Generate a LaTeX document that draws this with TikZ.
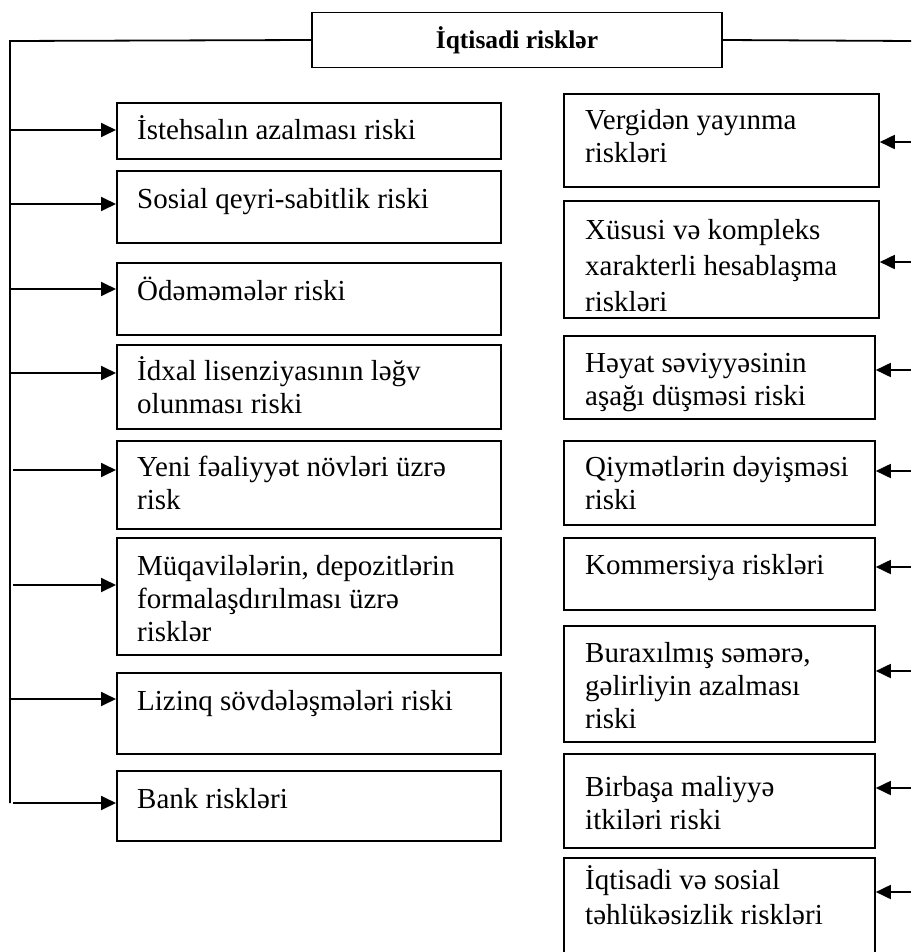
\documentclass[tikz,border=0pt]{standalone}
\usepackage{fontspec}
\setmainfont{Liberation Serif}
\usetikzlibrary{arrows.meta}

\begin{document}
\begin{tikzpicture}[x=1pt,y=-1pt,
        head/.style = {draw, rectangle, line width=1.8pt, minimum width=410pt, minimum height=55pt, font=\fontsize{25.5}{30}\selectfont\bfseries},
]
\tikzstyle{rbox}=[rectangle, draw=black, line width=1.8pt, anchor=north west, inner sep=0pt]
\tikzstyle{txt}=[anchor=base west, align=left, inner sep=0pt, font=\fontsize{29}{33}\selectfont]
\tikzstyle{connect}=[-{Triangle[length=15pt,width=14pt]}, line width=1.8pt]
\tikzstyle{trunk}=[line width=1.8pt]

\useasboundingbox (0,0) rectangle (911,952);

	\node[head] (risk) at (517,40) {İqtisadi risklər};

	% left column (base = last line of the text)
	\node[rbox, minimum width=384pt, minimum height=56pt] (l1) at (116,102) {};
	\node[txt] (tl1) at ([shift={(21,38)}]l1.north west) {İstehsalın azalması riski};

	\node[rbox, minimum width=384pt, minimum height=72pt] (l2) at (116,170) {};
	\node[txt] (tl2) at ([shift={(21,38)}]l2.north west) {Sosial qeyri-sabitlik riski};

	\node[rbox, minimum width=384pt, minimum height=72pt] (l3) at (116,262) {};
	\node[txt] (tl3) at ([shift={(21,38)}]l3.north west) {Ödəməmələr riski};

	\node[rbox, minimum width=384pt, minimum height=84pt] (l4) at (116,344) {};
	\node[txt] (tl4) at ([shift={(21,69)}]l4.north west) {İdxal lisenziyasının ləğv\\olunması riski};

	\node[rbox, minimum width=384pt, minimum height=88pt] (l5) at (116,440) {};
	\node[txt] (tl5) at ([shift={(21,69)}]l5.north west) {Yeni fəaliyyət növləri üzrə\\risk};

	\node[rbox, minimum width=384pt, minimum height=117pt] (l6) at (116,537) {};
	\node[txt] (tl6) at ([shift={(21,104)}]l6.north west) {Müqavilələrin, depozitlərin\\formalaşdırılması üzrə\\risklər};

	\node[rbox, minimum width=384pt, minimum height=81pt] (l7) at (116,672) {};
	\node[txt] (tl7) at ([shift={(21,38)}]l7.north west) {Lizinq sövdələşmələri riski};

	\node[rbox, minimum width=384pt, minimum height=70pt] (l8) at (116,770) {};
	\node[txt] (tl8) at ([shift={(21,38)}]l8.north west) {Bank riskləri};

	% right column
	\node[rbox, minimum width=315pt, minimum height=93pt] (r1) at (563,93) {};
	\node[txt] (tr1) at ([shift={(22,70)}]r1.north west) {Vergidən yayınma\\riskləri};

	\node[rbox, minimum width=315pt, minimum height=117pt] (r2) at (563,200) {};
	\node[txt] (tr2) at ([shift={(22,111)}]r2.north west) {Xüsusi və kompleks\\[3pt]xarakterli hesablaşma\\[3pt]riskləri};

	\node[rbox, minimum width=311pt, minimum height=83pt] (r3) at (563,335) {};
	\node[txt] (tr3) at ([shift={(22,70)}]r3.north west) {Həyat səviyyəsinin\\aşağı düşməsi riski};

	\node[rbox, minimum width=311pt, minimum height=84pt] (r4) at (563,440) {};
	\node[txt] (tr4) at ([shift={(22,69)}]r4.north west) {Qiymətlərin dəyişməsi\\riski};

	\node[rbox, minimum width=311pt, minimum height=72pt] (r5) at (563,537) {};
	\node[txt] (tr5) at ([shift={(22,37)}]r5.north west) {Kommersiya riskləri};

	\node[rbox, minimum width=311pt, minimum height=116pt] (r6) at (563,625) {};
	\node[txt] (tr6) at ([shift={(22,103)}]r6.north west) {Buraxılmış səmərə,\\gəlirliyin azalması\\riski};

	\node[rbox, minimum width=311pt, minimum height=94pt] (r7) at (563,753) {};
	\node[txt] (tr7) at ([shift={(22,76)}]r7.north west) {Birbaşa maliyyə\\itkiləri riski};

	\node[rbox, minimum width=311pt, minimum height=130pt] (r8) at (563,857) {};
	\node[txt] (tr8) at ([shift={(22,67)}]r8.north west) {İqtisadi və sosial\\[2pt]təhlükəsizlik riskləri};

	% trunk lines
	\coordinate (tl) at (10,41);
	\coordinate (tb) at (10,803);
	\coordinate (tr) at (911,41);
	\draw[trunk] (risk.west) -- (tl) -- (tb);
	\draw[trunk] (risk.east) -- (tr);

	\coordinate (a1) at (10,130);
	\coordinate (a2) at (10,204);
	\coordinate (a3) at (10,289);
	\coordinate (a4) at (10,373);
	\coordinate (a5) at (13,470);
	\coordinate (a6) at (13,585);
	\coordinate (a7) at (10,699);
	\coordinate (a8) at (13,803);

	\coordinate (b1) at (911,142);
	\coordinate (b2) at (911,262);
	\coordinate (b3) at (911,370);
	\coordinate (b4) at (911,471);
	\coordinate (b5) at (911,567);
	\coordinate (b6) at (911,671);
	\coordinate (b7) at (911,788);
	\coordinate (b8) at (911,892);

	\path[connect]
		(a1) edge (a1 -| l1.west)
		(a2) edge (a2 -| l2.west)
		(a3) edge (a3 -| l3.west)
		(a4) edge (a4 -| l4.west)
		(a5) edge (a5 -| l5.west)
		(a6) edge (a6 -| l6.west)
		(a7) edge (a7 -| l7.west)
		(a8) edge (a8 -| l8.west)
		(b1) edge (b1 -| r1.east)
		(b2) edge (b2 -| r2.east)
		(b3) edge (b3 -| r3.east)
		(b4) edge (b4 -| r4.east)
		(b5) edge (b5 -| r5.east)
		(b6) edge (b6 -| r6.east)
		(b7) edge (b7 -| r7.east)
		(b8) edge (b8 -| r8.east);

\end{tikzpicture}
\end{document}
